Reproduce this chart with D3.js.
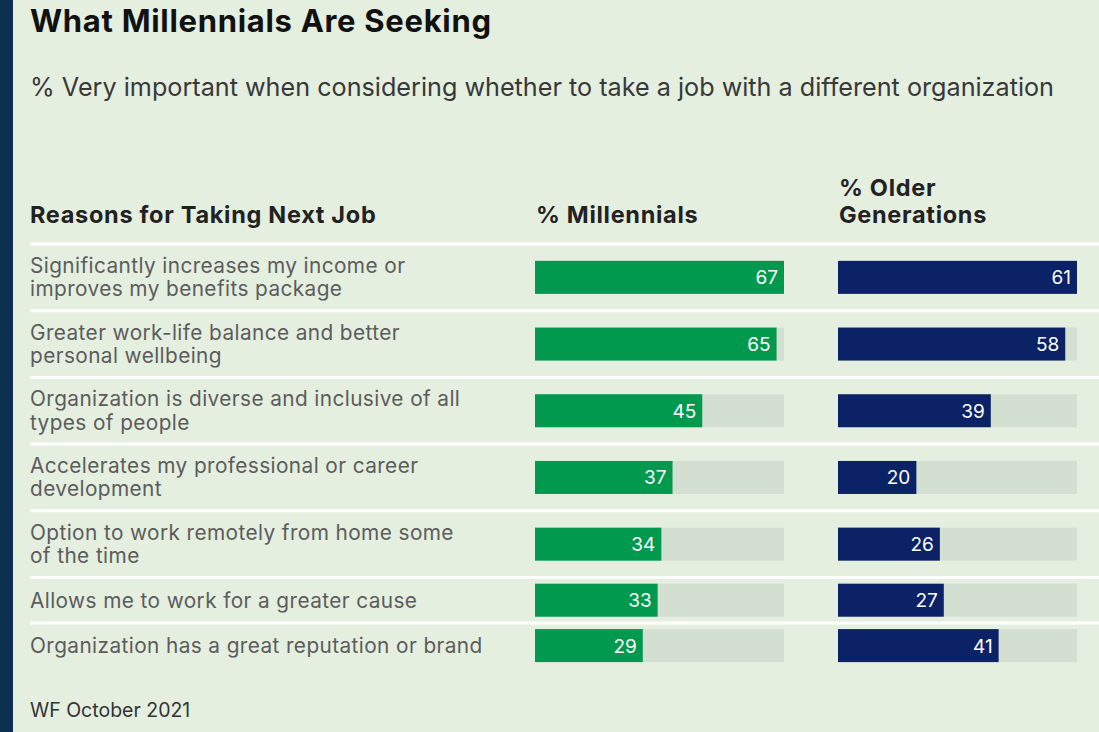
<!DOCTYPE html>
<html>
<head>
<meta charset="utf-8">
<script src="https://cdn.jsdelivr.net/npm/d3@7"></script>
<style>
  html, body { margin: 0; padding: 0; background: #e4efe0; }
  svg { display: block; }
</style>
</head>
<body>
<svg id="chart" width="1099" height="732"></svg>
<script>
// Survey: reasons for taking a job with a different organization
const reasons = [
  ["Significantly increases my income or", "improves my benefits package"],
  ["Greater work-life balance and better", "personal wellbeing"],
  ["Organization is diverse and inclusive of all", "types of people"],
  ["Accelerates my professional or career", "development"],
  ["Option to work remotely from home some", "of the time"],
  ["Allows me to work for a greater cause"],
  ["Organization has a great reputation or brand"]
];
const millennials = [67, 65, 45, 37, 34, 33, 29];
const olderGenerations = [61, 58, 39, 20, 26, 27, 41];
const columnHeaders = [["% Millennials"], ["% Older", "Generations"]];

const W = 1099, H = 732;
const svg = d3.select("#chart");
const font = "Inter, 'Noto Sans', sans-serif";

// page background and dark left edge
svg.append("rect").attr("width", W).attr("height", H).attr("fill", "#e4efe0");
svg.append("rect").attr("width", 13).attr("height", H).attr("fill", "#0f2f52");

// titles
svg.append("text").attr("x", 30).attr("y", 32)
  .attr("font-family", font).attr("font-weight", 700).attr("font-size", 31)
  .attr("letter-spacing", 0.7)
  .attr("fill", "#111").text("What Millennials Are Seeking");
svg.append("text").attr("x", 30).attr("y", 96)
  .attr("font-family", font).attr("font-size", 25.2)
  .attr("fill", "#383838")
  .text("% Very important when considering whether to take a job with a different organization");

// row layout: two-line labels get taller rows
const lineRowH = { 1: 45.4, 2: 66.7 };
const tableTop = 244;
const rows = [];
let yAcc = tableTop;
reasons.forEach((lines, i) => {
  const h = lineRowH[lines.length];
  rows.push({ i, lines, top: yAcc, h, m: millennials[i], o: olderGenerations[i] });
  yAcc += h;
});
const barH = 33;

// columns: each track spans 0..column max
const cols = [
  { key: "m", values: millennials, x0: 535, width: 249, color: "#00994e", header: columnHeaders[0] },
  { key: "o", values: olderGenerations, x0: 838, width: 239, color: "#0c2266", header: columnHeaders[1] }
];
cols.forEach(c => {
  c.scale = d3.scaleLinear().domain([0, d3.max(c.values)]).range([c.x0, c.x0 + c.width]);
});

// header row
const headStyle = t => t.attr("font-family", font).attr("font-weight", 700)
  .attr("font-size", 23.5).attr("letter-spacing", 0.7).attr("fill", "#222");
svg.append("text").attr("x", 30).attr("y", 223).call(headStyle)
  .text("Reasons for Taking Next Job");
cols.forEach(c => {
  const t = svg.append("text").attr("x", c.x0 + 1).attr("y", 223 - (c.header.length - 1) * 27)
    .call(headStyle);
  c.header.forEach((s, j) => {
    t.append("tspan").attr("x", c.x0 + 1).attr("dy", j === 0 ? 0 : 27).text(s);
  });
});

// separators
const sepY = rows.map(r => r.top);
svg.append("g").selectAll("line").data(sepY).join("line")
  .attr("x1", 30).attr("x2", W).attr("y1", d => d).attr("y2", d => d)
  .attr("stroke", "#ffffff").attr("stroke-width", 3);

// row labels
const labelG = svg.append("g");
rows.forEach(r => {
  const cy = r.top + r.h / 2;
  const t = labelG.append("text")
    .attr("font-family", font).attr("font-size", 20.8).attr("letter-spacing", 0.4)
    .attr("fill", "#5c5c5c");
  const first = cy + 7.3 - (r.lines.length - 1) * 11.7;
  r.lines.forEach((s, j) => {
    t.append("tspan").attr("x", 30).attr("y", first + j * 23.3).text(s);
  });
});

// tracks, bars and value labels
cols.forEach(c => {
  const g = svg.append("g");
  g.selectAll("rect.track").data(rows).join("rect").attr("class", "track")
    .attr("x", c.scale(0)).attr("width", c.scale.range()[1] - c.scale(0))
    .attr("y", d => d.top + d.h / 2 - barH / 2).attr("height", barH)
    .attr("fill", "#d3dfd0");
  g.selectAll("rect.bar").data(rows).join("rect").attr("class", "bar")
    .attr("x", c.scale(0)).attr("width", d => c.scale(d[c.key]) - c.scale(0))
    .attr("y", d => d.top + d.h / 2 - barH / 2).attr("height", barH)
    .attr("fill", c.color);
  g.selectAll("text.val").data(rows).join("text").attr("class", "val")
    .attr("x", d => c.scale(d[c.key]) - 6).attr("y", d => d.top + d.h / 2 + 7)
    .attr("text-anchor", "end")
    .attr("font-family", font).attr("font-size", 19).attr("fill", "#ffffff")
    .text(d => d[c.key]);
});

// source
svg.append("text").attr("x", 30).attr("y", 717)
  .attr("font-family", font).attr("font-size", 19.5).attr("fill", "#333")
  .text("WF October 2021");
</script>
</body>
</html>
